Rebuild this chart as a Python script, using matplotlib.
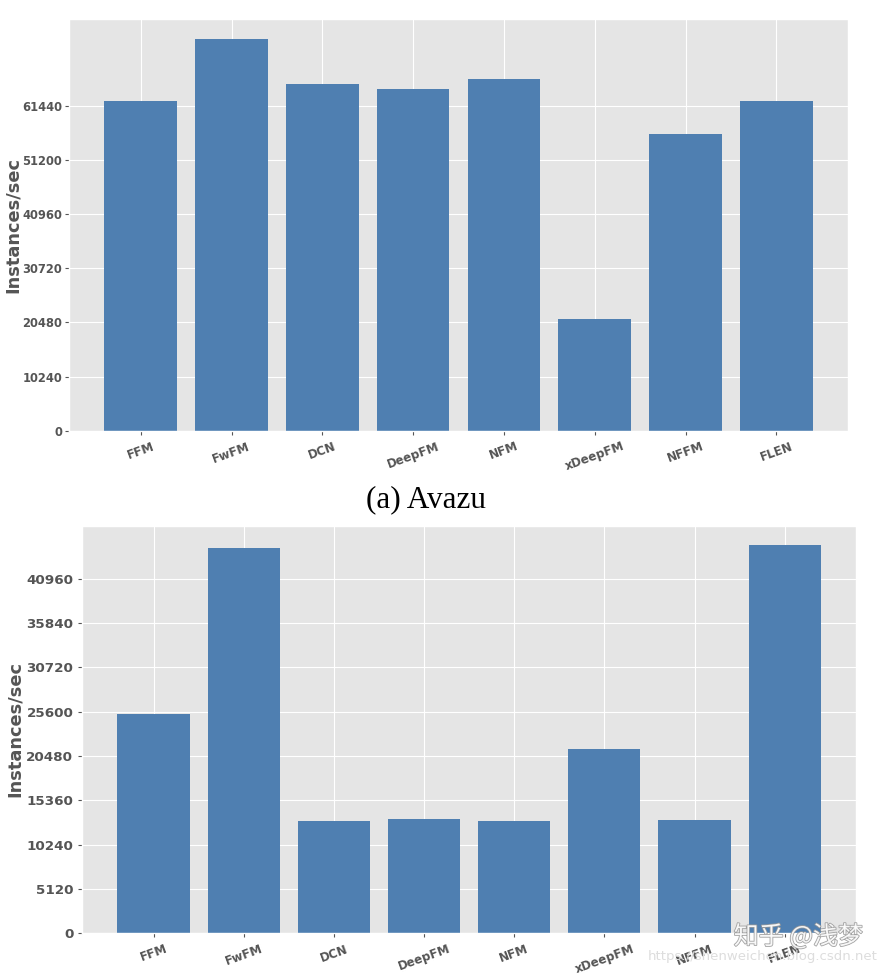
import matplotlib
matplotlib.use('Agg')
import matplotlib.pyplot as plt
import matplotlib.patheffects as pe

plt.style.use('ggplot')

# models and throughput values (instances/sec)
models = ['FFM', 'FwFM', 'DCN', 'DeepFM', 'NFM', 'xDeepFM', 'NFFM', 'FLEN']
avazu_speed = [62300, 74150, 65650, 64700, 66600, 21100, 56200, 62300]
criteo_speed = [25380, 44500, 12940, 13170, 12940, 21270, 13050, 44850]

avazu_ticks = [0, 10240, 20480, 30720, 40960, 51200, 61440]
criteo_ticks = [0, 5120, 10240, 15360, 20480, 25600, 30720, 35840, 40960]

bar_color = '#4f7fb1'
text_color = '#555555'

fig = plt.figure(figsize=(8.92, 9.74), dpi=100)

# top panel (Avazu)
ax1 = fig.add_axes([0.0774, 0.5578, 0.8733, 0.4224])
ax1.bar(models, avazu_speed, color=bar_color, width=0.8)
ax1.set_yticks(avazu_ticks)
ax1.set_yticklabels([str(t) for t in avazu_ticks], fontsize=8.3, fontweight='bold', color=text_color)
ax1.set_xticks(range(len(models)))
ax1.set_xticklabels(models, rotation=20, fontsize=8.6, fontweight='bold', color=text_color)
ax1.set_ylabel('Instances/sec', fontsize=12.8, fontweight='bold', color=text_color, labelpad=0)
ax1.tick_params(axis='y', pad=2)

# caption between panels
fig.text(0.4774, 0.4866, '(a) Avazu', ha='center', va='center',
         fontsize=22.5, family='Liberation Serif', color='black')

# bottom panel (Criteo)
ax2 = fig.add_axes([0.0923, 0.0418, 0.8673, 0.4185])
ax2.bar(models, criteo_speed, color=bar_color, width=0.8)
ax2.set_yticks(criteo_ticks)
ax2.set_yticklabels([str(t) for t in criteo_ticks], fontsize=9.7, fontweight='bold', color=text_color)
ax2.set_xticks(range(len(models)))
ax2.set_xticklabels(models, rotation=20, fontsize=8.6, fontweight='bold', color=text_color)
ax2.set_ylabel('Instances/sec', fontsize=12.8, fontweight='bold', color=text_color, labelpad=2)

for ax in (ax1, ax2):
    ax.tick_params(axis='both', length=3, color=text_color)

# watermark
fig.text(0.895, 0.038, '知乎 @浅梦', ha='center', va='center', fontsize=18,
         family=['Noto Sans CJK SC', 'DejaVu Sans'], color='white', alpha=0.9,
         path_effects=[pe.withStroke(linewidth=1.2, foreground='#999999')])
fig.text(0.855, 0.018, 'https://shenweichen.blog.csdn.net', ha='center', va='center',
         fontsize=9.5, color='#dddddd')

fig.savefig('out.png', dpi=100)
